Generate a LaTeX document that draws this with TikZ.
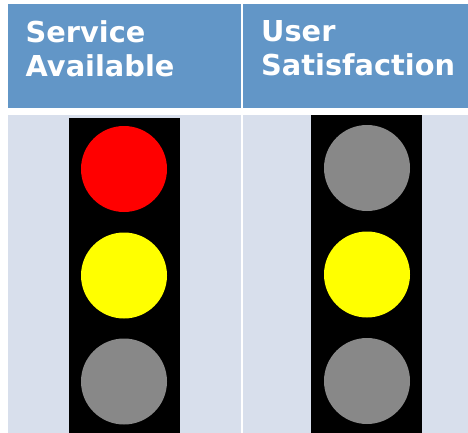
\documentclass[tikz,border=0pt]{standalone}
\usepackage{fontspec}
\setmainfont{DejaVu Sans}
\definecolor{hdr}{RGB}{98,150,199}
\definecolor{bodyc}{RGB}{216,223,236}
\definecolor{offlamp}{RGB}{136,136,136}
\definecolor{redlamp}{RGB}{255,0,0}
\definecolor{yellamp}{RGB}{255,255,0}
\begin{document}
\begin{tikzpicture}[x=1pt,y=-1pt,
  hdrtext/.style={anchor=north west,text=white,font=\bfseries\fontsize{28.8}{34}\selectfont,align=left,inner sep=0pt},
  lamp/.style={circle,minimum size=86pt,inner sep=0pt}]
\useasboundingbox (0,0) rectangle (468,433);
\fill[white] (0,0) rectangle (468,433);
% header cells
\fill[hdr] (8,4) rectangle (240.7,108);
\fill[hdr] (243,4) rectangle (468,108);
% body cells
\fill[bodyc] (8,115) rectangle (240.7,433);
\fill[bodyc] (243,115) rectangle (468,433);
% header texts
\node[hdrtext] (h1) at (25.5,20) {Service\\Available};
\node[hdrtext] (h2) at (261,20) {User\\Satisfaction};
% traffic light housings
\fill[black] (69,118) rectangle (180,433);
\fill[black] (311,115.5) rectangle (422,433);
% lamps, left
\node[lamp,fill=redlamp] (l1) at (124,169) {};
\node[lamp,fill=yellamp] (l2) at (124,275.5) {};
\node[lamp,fill=offlamp] (l3) at (124,381.5) {};
% lamps, right
\node[lamp,fill=offlamp] (r1) at (367,168) {};
\node[lamp,fill=yellamp] (r2) at (367,274.5) {};
\node[lamp,fill=offlamp] (r3) at (367,381) {};
\end{tikzpicture}
\end{document}
